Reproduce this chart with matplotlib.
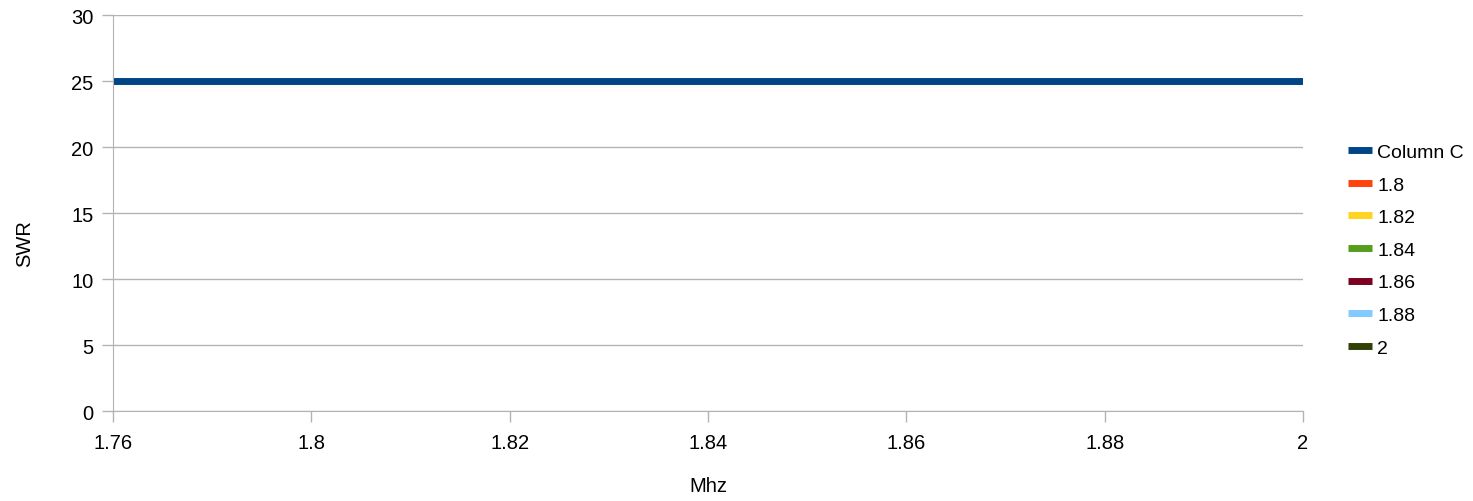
import matplotlib
matplotlib.use("Agg")
import matplotlib.pyplot as plt

plt.rcParams["font.family"] = ["Liberation Sans", "DejaVu Sans"]

# categorias do eixo x (eixo de categorias, espacamento uniforme)
mhz = ["1.76", "1.8", "1.82", "1.84", "1.86", "1.88", "2"]
# serie "Column C": SWR constante
swr_col_c = [25, 25, 25, 25, 25, 25, 25]
# demais series da legenda (sem dados visiveis)
outras = ["1.8", "1.82", "1.84", "1.86", "1.88", "2"]
cores = ["#ff420e", "#ffd320", "#579d1c", "#7e0021", "#83caff", "#314004"]

fig = plt.figure(figsize=(14.73, 5.02), dpi=100)
ax = fig.add_axes([113 / 1473, 1 - 412 / 502, (1303 - 113) / 1473, (412 - 16) / 502])

x = list(range(len(mhz)))
ax.plot(x, swr_col_c, color="#004586", lw=5, solid_capstyle="butt", label="Column C")
for nome, cor in zip(outras, cores):
    ax.plot([], [], color=cor, lw=5, solid_capstyle="butt", label=nome)

ax.set_xlim(0, len(mhz) - 1)
ax.set_ylim(0, 30)
ax.set_xticks(x)
ax.set_xticklabels(mhz)
ax.set_yticks(range(0, 31, 5))
ax.tick_params(labelsize=14.5, color="#b3b3b3", width=1)
ax.tick_params(axis="x", length=8, pad=8)
ax.tick_params(axis="y", length=8, pad=6)
ax.grid(axis="y", color="#b3b3b3", lw=1)
ax.set_axisbelow(True)
for lado in ["top", "right"]:
    ax.spines[lado].set_visible(False)
for lado in ["left", "bottom"]:
    ax.spines[lado].set_color("#b3b3b3")

fig.text(708 / 1473, 1 - 487 / 502, "Mhz", fontsize=14.5, ha="center", va="center")
fig.text(25 / 1473, 1 - 244 / 502, "SWR", fontsize=14.5, ha="center", va="center",
         rotation=90)

fig.legend(loc="center left", bbox_to_anchor=(1348 / 1473, 0.5), frameon=False,
           fontsize=14, borderpad=0, borderaxespad=0, handlelength=1.25,
           handletextpad=0.25, labelspacing=0.77)

fig.savefig("out.png", dpi=100)
